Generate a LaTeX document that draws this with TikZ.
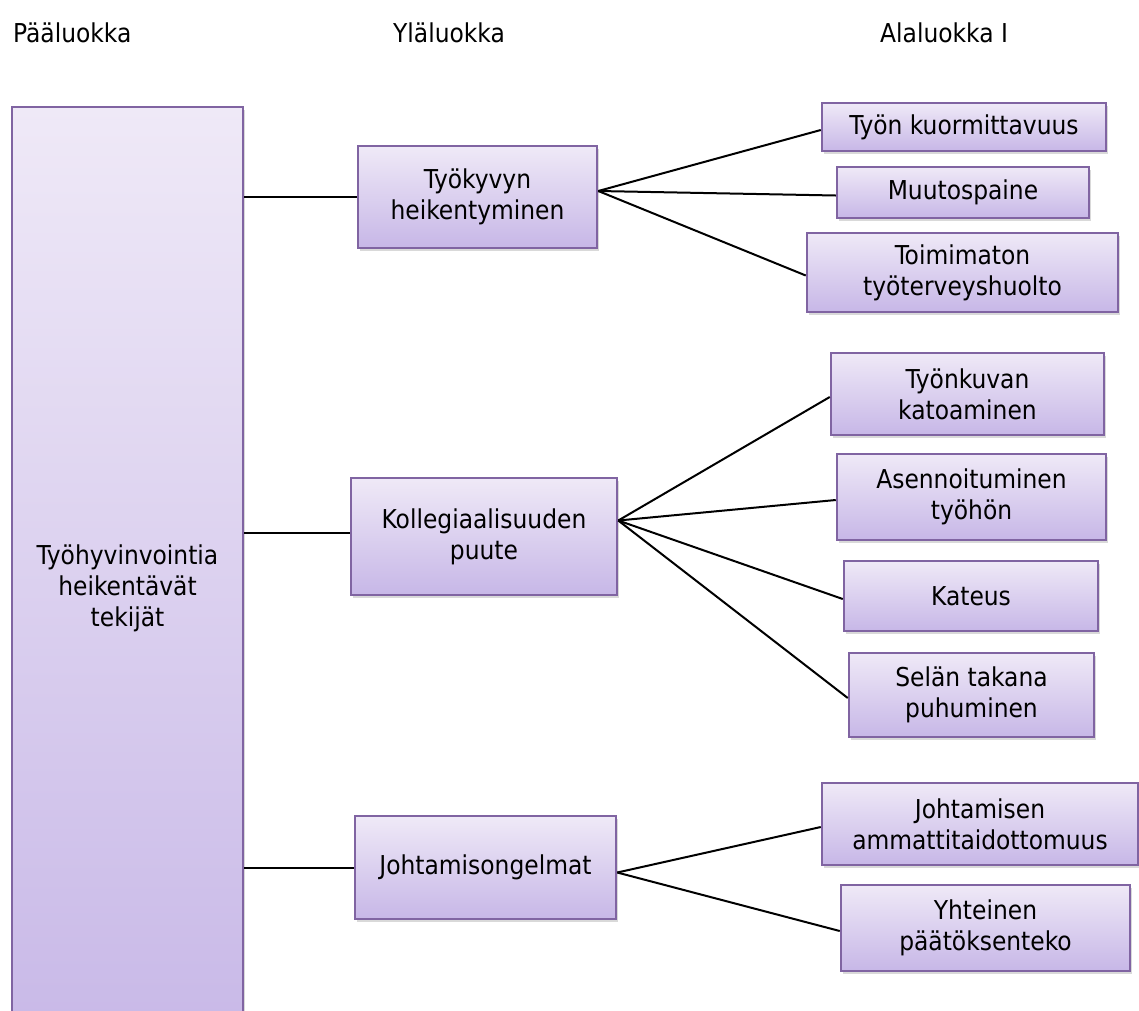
\documentclass[tikz,border=0pt]{standalone}
\usepackage{fontspec}
\setmainfont{DejaVu Sans Condensed}
\usetikzlibrary{shadows}

\definecolor{reuna}{RGB}{128,100,162}
\definecolor{ylavari}{RGB}{239,233,247}
\definecolor{alavari}{RGB}{199,183,231}

\tikzset{
  laatikko/.style={draw=reuna, line width=2.5pt, top color=ylavari, bottom color=alavari,
    align=center, inner sep=0pt,
    drop shadow={shadow xshift=2pt, shadow yshift=-3pt, opacity=0.3}},
  otsikko/.style={anchor=west, inner sep=0pt},
  yhteys/.style={line width=2pt}
}

\begin{document}
\begin{tikzpicture}[x=1pt, y=-1pt, font=\fontsize{26}{31}\selectfont]
    \useasboundingbox (0,0) rectangle (1139,1010);

    % otsikot
    \node[otsikko] (h1) at (13,33) {Pääluokka};
    \node[otsikko] (h2) at (393,33) {Yläluokka};
    \node[otsikko] (h3) at (880,33) {Alaluokka I};

    % pääluokka
    \node[laatikko, minimum width=231pt, minimum height=962pt] (paa) at (127.5,588)
      {Työhyvinvointia\\heikentävät\\tekijät};

    % yläluokat
    \node[laatikko, minimum width=239pt, minimum height=102pt] (tk) at (477.5,197)
      {Työkyvyn\\heikentyminen};
    \node[laatikko, minimum width=266pt, minimum height=117pt] (kp) at (484,536.5)
      {Kollegiaalisuuden\\puute};
    \node[laatikko, minimum width=261pt, minimum height=103pt] (jo) at (485.5,867.5)
      {Johtamisongelmat};

    % alaluokat
    \node[laatikko, minimum width=284pt, minimum height=48pt] (a1) at (964,127)
      {Työn kuormittavuus};
    \node[laatikko, minimum width=252pt, minimum height=51pt] (a2) at (963,192.5)
      {Muutospaine};
    \node[laatikko, minimum width=311pt, minimum height=79pt] (a3) at (962.5,272.5)
      {Toimimaton\\työterveyshuolto};

    \node[laatikko, minimum width=273pt, minimum height=82pt] (b1) at (967.5,394)
      {Työnkuvan\\katoaminen};
    \node[laatikko, minimum width=269pt, minimum height=86pt] (b2) at (971.5,497)
      {Asennoituminen\\työhön};
    \node[laatikko, minimum width=254pt, minimum height=70pt] (b3) at (971,596)
      {Kateus};
    \node[laatikko, minimum width=245pt, minimum height=84pt] (b4) at (971.5,695)
      {Selän takana\\puhuminen};

    \node[laatikko, minimum width=316pt, minimum height=82pt] (c1) at (980,824)
      {Johtamisen\\ammattitaidottomuus};
    \node[laatikko, minimum width=289pt, minimum height=86pt] (c2) at (985.5,928)
      {Yhteinen\\päätöksenteko};

    % yhteydet
    \draw[yhteys] (paa.east |- tk.west) -- (tk.west);
    \draw[yhteys] ([yshift=4pt]paa.east |- kp.west) -- ([yshift=4pt]kp.west);
    \draw[yhteys] (paa.east |- jo.west) -- (jo.west);

    \foreach \k in {a1,a2,a3}
      \draw[yhteys] ([yshift=6pt]tk.east) -- ([yshift=-3pt]\k.west);
    \foreach \k in {b1,b2,b3,b4}
      \draw[yhteys] ([yshift=16pt]kp.east) -- ([yshift=-3pt]\k.west);
    \foreach \k in {c1,c2}
      \draw[yhteys] ([yshift=-5pt]jo.east) -- ([yshift=-3pt]\k.west);

\end{tikzpicture}
\end{document}
